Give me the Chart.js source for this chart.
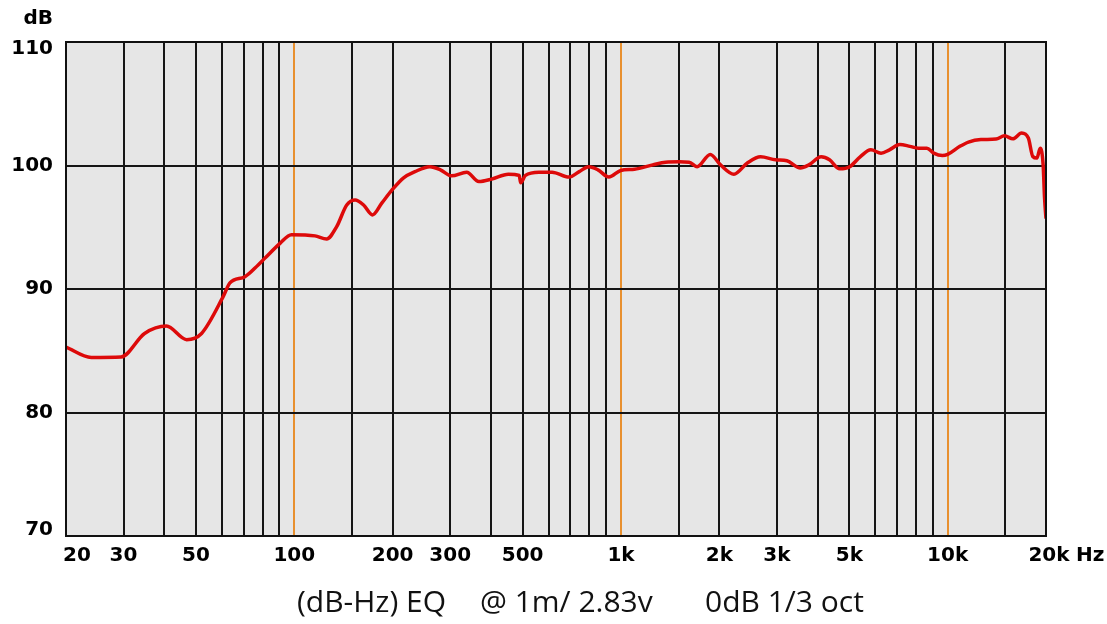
<!DOCTYPE html>
<html>
<head>
<meta charset="utf-8">
<script src="https://cdn.jsdelivr.net/npm/chart.js@4/dist/chart.umd.min.js"></script>
<style>
html,body{margin:0;padding:0;background:#fff;}
#wrap{position:relative;width:1107px;height:624px;}
</style>
</head>
<body>
<div id="wrap"><canvas id="c" width="1107" height="624"></canvas></div>
<script>
// Frequency response data (Hz, dB)
const freqs = [20, 23.9, 29.5, 34.8, 40.6, 46.8, 52, 60.6, 63.5, 70.6, 77.5, 81.3, 90.4, 98, 115.7, 125.6, 134.8, 144.7, 153.5, 162.9, 173.5, 185.2, 198.9, 216, 234, 260, 280, 303, 337, 367, 402, 452, 488, 493, 510, 561, 615, 693, 745, 797, 850, 918, 998, 1100, 1250, 1370, 1508, 1616, 1710, 1877, 2017, 2216, 2436, 2675, 2974, 3221, 3542, 3760, 4100, 4349, 4669, 5015, 5397, 5819, 6252, 6636, 7134, 7663, 8129, 8634, 9063, 9637, 10000, 10900, 11580, 12640, 14060, 14930, 15840, 16840, 17660, 18220, 18760, 19200, 19600, 19800, 20000];
const levels = [85.3, 84.46, 84.5, 86.4, 87.0, 85.9, 86.4, 89.4, 90.5, 91.0, 91.95, 92.5, 93.7, 94.4, 94.3, 94.05, 95.05, 96.8, 97.2, 96.8, 96.0, 96.95, 98.0, 99.0, 99.5, 99.9, 99.65, 99.16, 99.46, 98.7, 98.9, 99.3, 99.2, 98.6, 99.2, 99.46, 99.46, 99.06, 99.5, 99.9, 99.65, 99.06, 99.6, 99.7, 100.05, 100.27, 100.3, 100.27, 99.9, 100.9, 100.05, 99.3, 100.2, 100.7, 100.46, 100.38, 99.8, 100.05, 100.7, 100.46, 99.73, 99.9, 100.7, 101.27, 101.0, 101.27, 101.7, 101.55, 101.4, 101.4, 101.0, 100.8, 100.9, 101.55, 101.9, 102.1, 102.14, 102.4, 102.16, 102.63, 102.22, 100.73, 100.6, 101.4, 100.05, 97.35, 95.7];

// Grid lines (Hz) and labels
const gridFreqs = [20, 30, 40, 50, 60, 70, 80, 90, 100, 150, 200, 300, 400, 500, 600, 700, 800, 900, 1000, 1500, 2000, 3000, 4000, 5000, 6000, 7000, 8000, 9000, 10000, 15000, 20000];
const decadeFreqs = [100, 1000, 10000];
const xLabelValues = [20, 30, 50, 100, 200, 300, 500, 1000, 2000, 3000, 5000, 10000, 20000];
const xLabelTexts = ['20', '30', '50', '100', '200', '300', '500', '1k', '2k', '3k', '5k', '10k', '20k'];
const yTicks = [70, 80, 90, 100, 110];
const yUnit = 'dB';
const xUnit = 'Hz';
const captionParts = ['(dB-Hz) EQ', '@ 1m/ 2.83v', '0dB 1/3 oct'];

const points = freqs.map((f, i) => ({x: f, y: levels[i]}));

const TICK_FONT = 'bold 20px "DejaVu Sans", Verdana, sans-serif';

const decor = {
  id: 'decor',
  beforeDraw(chart) {
    const {ctx, chartArea: a} = chart;
    ctx.save();
    ctx.fillStyle = '#e6e6e6';
    ctx.fillRect(a.left, a.top, a.right - a.left, a.bottom - a.top);
    ctx.restore();
  },
  afterDraw(chart) {
    const {ctx, chartArea: a} = chart;
    const xs = chart.scales.x, ys = chart.scales.y;
    ctx.save();
    ctx.fillStyle = '#000';
    ctx.font = TICK_FONT;
    // y tick labels
    ctx.textAlign = 'right';
    ctx.textBaseline = 'middle';
    yTicks.forEach(v => {
      let py = ys.getPixelForValue(v);
      if (v === 110) py += 7;
      if (v === 70) py -= 6;
      ctx.fillText(String(v), 53, py);
    });
    ctx.fillText(yUnit, 53, 19);
    // x tick labels
    ctx.textAlign = 'center';
    ctx.textBaseline = 'middle';
    xLabelValues.forEach((v, i) => {
      let px = xs.getPixelForValue(v);
      if (v === 20) px += 11;
      if (v === 20000) px += 3;
      ctx.fillText(xLabelTexts[i], px, 556);
    });
    ctx.textAlign = 'left';
    ctx.fillText(xUnit, 1076, 556);
    // caption
    ctx.font = '30px "Open Sans", "Noto Sans", sans-serif';
    ctx.textBaseline = 'alphabetic';
    ctx.fillStyle = '#111';
    ctx.fillText(captionParts[0], 297, 612);
    ctx.fillText(captionParts[1], 480, 612);
    ctx.fillText(captionParts[2], 705, 612);
    // border
    ctx.strokeStyle = '#111';
    ctx.lineWidth = 2;
    ctx.strokeRect(a.left, a.top, a.right - a.left, a.bottom - a.top);
    ctx.restore();
  }
};

new Chart(document.getElementById('c'), {
  type: 'line',
  data: {
    datasets: [{
      data: points,
      borderColor: '#dd0a0a',
      borderWidth: 3.5,
      pointRadius: 0,
      fill: false,
      cubicInterpolationMode: 'monotone'
    }]
  },
  options: {
    responsive: false,
    animation: false,
    events: [],
    layout: {padding: {left: 0, top: 42, right: 61, bottom: 0}},
    plugins: {legend: {display: false}, tooltip: {enabled: false}},
    scales: {
      x: {
        type: 'logarithmic',
        min: 20,
        max: 20000,
        afterBuildTicks(scale) { scale.ticks = gridFreqs.map(v => ({value: v})); },
        afterFit(scale) { scale.height = 88; },
        grid: {
          drawTicks: false,
          lineWidth: 2,
          color: ctx => (ctx.tick && decadeFreqs.includes(ctx.tick.value)) ? '#e8902f' : '#151515'
        },
        border: {display: false},
        ticks: {display: false, autoSkip: false}
      },
      y: {
        min: 70,
        max: 110,
        afterBuildTicks(scale) { scale.ticks = yTicks.map(v => ({value: v})); },
        afterFit(scale) { scale.width = 66; },
        grid: {drawTicks: false, lineWidth: 2, color: '#151515'},
        border: {display: false},
        ticks: {display: false}
      }
    }
  },
  plugins: [decor]
});
</script>
</body>
</html>
